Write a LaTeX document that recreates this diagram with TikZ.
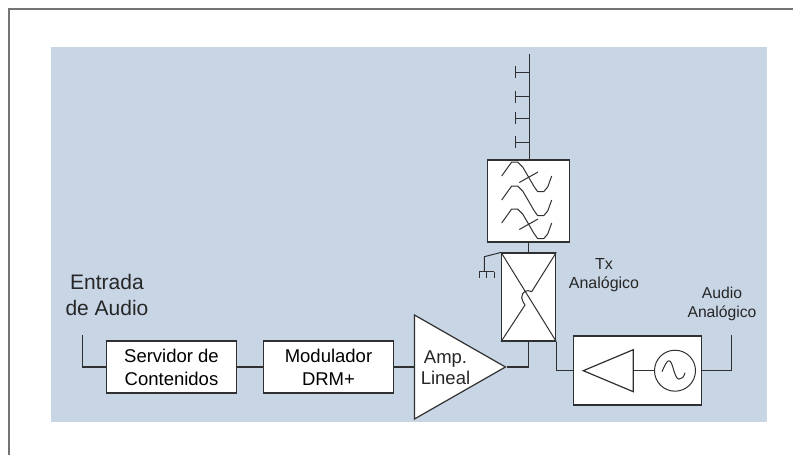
\documentclass[tikz,border=0pt]{standalone}
\usepackage{xcolor}
\usepackage{fontspec}
\setmainfont{Liberation Sans}
\usetikzlibrary{shapes,arrows.meta,positioning,fit,calc}
\definecolor{panelblue}{HTML}{C8D5E5}
\definecolor{wireblack}{HTML}{303030}

\begin{document}
\begin{tikzpicture}[
    x=1pt, y=-1pt,
    wire/.style={draw=wireblack, line width=1.2pt},
    thinwire/.style={draw=wireblack, line width=1pt, line join=round},
    block/.style={draw=wireblack, fill=white, line width=1.2pt, inner sep=0pt, align=center, font=\fontsize{18.5}{23}\selectfont},
    amptri/.style={draw=wireblack, fill=white, line width=1.2pt, isosceles triangle, isosceles triangle stretches, inner sep=0pt},
    caption/.style={inner sep=0pt, align=center, text=black!85},
]
\useasboundingbox (0,0) rectangle (793,455);
\fill[panelblue] (51,47) rectangle (767,422);
\coordinate (frametl) at (8.5,8.5);
\coordinate (framebl) at (8.5,455);
\coordinate (frametr) at (793,8.5);
\draw[draw=black!55, line width=2pt] (framebl) -- (frametl) -- (frametr);

% input chain
\node[block, minimum width=130pt, minimum height=52pt] (servidor) at (171.5,367) {Servidor de\\Contenidos};
\node[block, minimum width=130pt, minimum height=52pt] (modulador) at (328.5,367) {Modulador\\DRM+};
\node[amptri, minimum width=104pt, minimum height=91pt, anchor=apex] (amp) at (507,367) {};
\node[caption, font=\fontsize{18.5}{21}\selectfont] (amplabel) at (445.5,367.5) {Amp.\\Lineal};

% filter and coupler
\node[block, minimum width=82pt, minimum height=82pt] (filtro) at (528.7,201) {};
\node[block, minimum width=54pt, minimum height=88pt] (acoplador) at (528.7,297) {};

% analog transmitter
\node[block, minimum width=128pt, minimum height=69pt] (txbox) at (637.5,370.5) {};
\node[amptri, shape border rotate=180, minimum width=42pt, minimum height=50pt, anchor=apex] (txamp) at (581.7,370.7) {};
\node[draw=wireblack, fill=white, circle, line width=1pt, minimum size=41pt, inner sep=0pt] (osc) at (675,370.7) {};

% labels
\node[caption, font=\fontsize{21}{26}\selectfont] (entrada) at (107,295) {Entrada\\de Audio};
\node[caption, font=\fontsize{16}{19.5}\selectfont] (txlabel) at (604,275) {Tx\\Anal\'ogico};
\node[caption, font=\fontsize{15.7}{19.5}\selectfont] (audiolabel) at (722,304) {Audio\\Anal\'ogico};

% connections
\coordinate (entradaend) at (82.5,335);
\coordinate (audioend) at (731.7,335);
\coordinate (anttop) at (529.7,54);
\draw[wire] (entradaend) |- (servidor.west);
\draw[wire] (servidor) -- (modulador);
\draw[wire] (modulador) -- (modulador -| amp.left corner);
\draw[wire] (amp.apex) -| (acoplador.south);
\draw[wire] (acoplador.south east) |- (txbox.west);
\draw[wire] (txamp.east) -- (osc.west);
\draw[wire] (txbox.east) -| (audioend);
\draw[wire] (filtro.south) -- (acoplador.north);
\draw[wire] (anttop) -- (anttop |- filtro.north);

% antenna
\foreach \ypos in {72.3,96.7,118.3,142.3} {
    \draw[thinwire] (529.7,\ypos) -- (515.7,\ypos);
    \draw[thinwire] (515.7,\ypos-6) -- (515.7,\ypos+6);
}

% filter curves
\foreach \ypos/\cross in {176/1,200/0,223/1} {
    \begin{scope}[shift={(501.7,\ypos)}]
    \draw[thinwire] (0,0) -- (10,-14) -- (16,-14) -- (21,-9) -- (28,3) -- (32,10) -- (36,15.7) -- (42,15.7) -- (46,11) -- (50,0);
    \ifnum\cross=1
        \draw[thinwire] (17.6,6.5) -- (36.3,-4);
    \fi
    \end{scope}
}

% coupler inside
\draw[thinwire] (acoplador.north west) -- (acoplador.south east);
\draw[thinwire] (acoplador.north east) -- (531.7,291.7) .. controls (527,289) and (521.5,291.5) .. (521.7,298) .. controls (522,301) and (524,303) .. (525,305) -- (acoplador.south west);

% ground
\coordinate (gndtop) at (484.3,256.7);
\coordinate (gndbar) at (484.3,271.7);
\draw[thinwire] (acoplador.north west) -- (gndtop) -- (gndbar);
\draw[thinwire] (479.3,271.7) -- (494.3,271.7);
\foreach \xpos in {479.3,486.8,494.3} {
    \draw[thinwire] (\xpos,271.7) -- (\xpos,277.7);
}

% oscillator wave
\begin{scope}[shift={(osc.center)}]
\draw[thinwire] (-13,1) .. controls (-10,-6) and (-8,-10) .. (-6,-10) .. controls (-2,-10) and (-1,8) .. (4,8.5) .. controls (7,8.5) and (9,6) .. (10,2);
\end{scope}
\end{tikzpicture}
\end{document}
